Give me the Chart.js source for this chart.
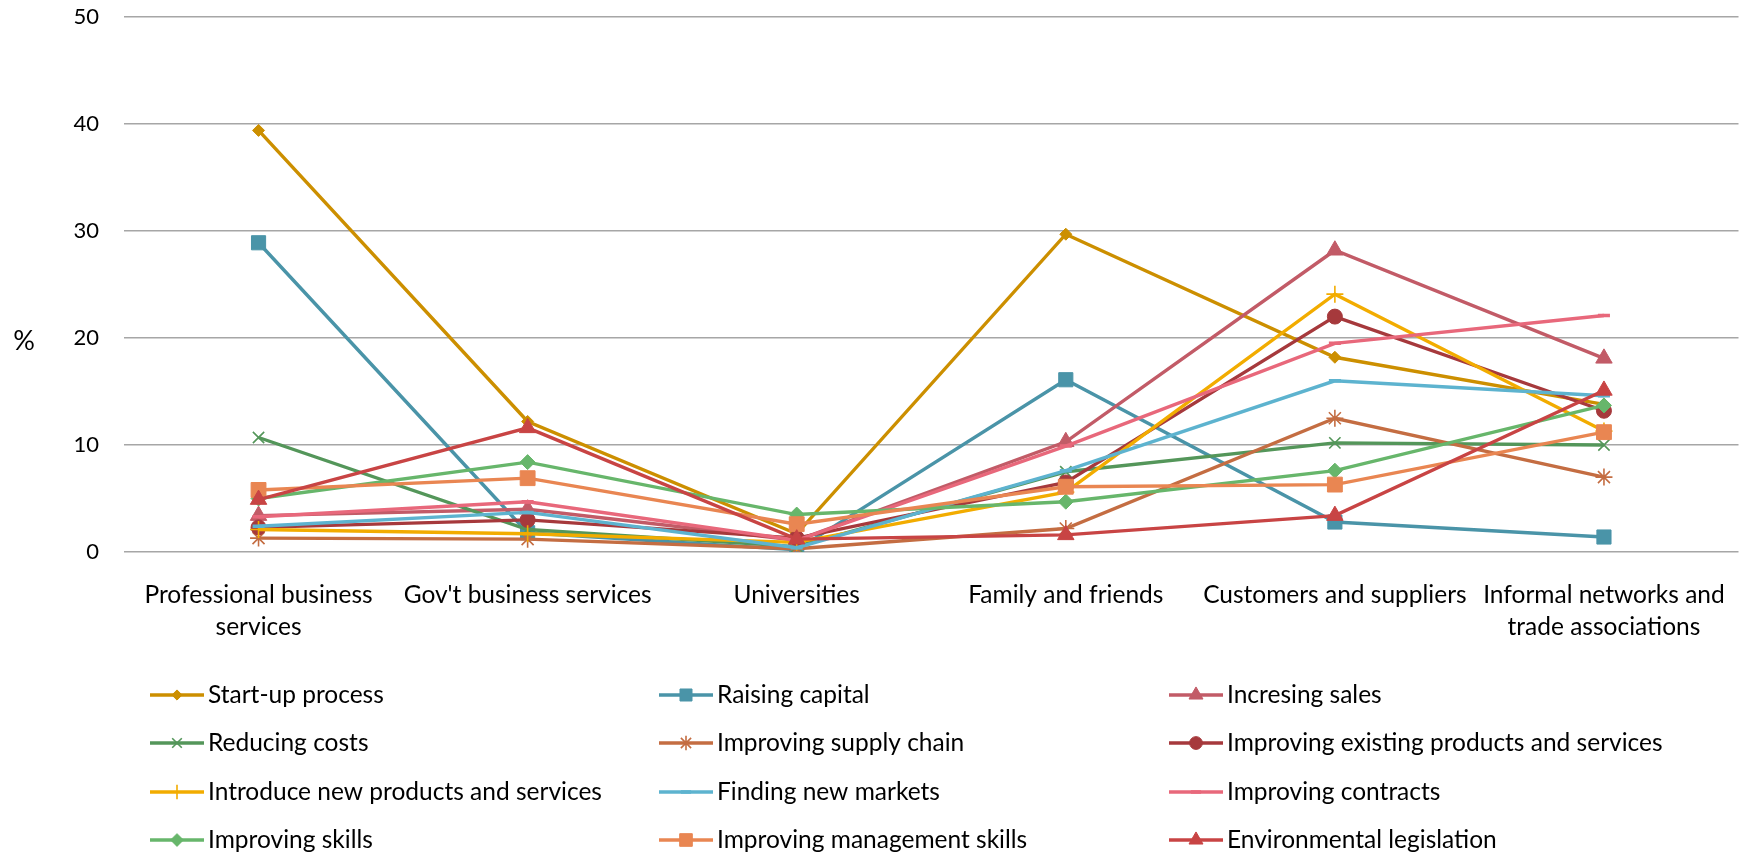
<!DOCTYPE html>
<html lang="en">
<head>
  <meta charset="UTF-8">
  <title>Sources of business advice</title>
  <script src="https://cdn.jsdelivr.net/npm/chart.js"></script>
  <style>
    body { margin: 0; background: #fff; }
    #chart { display: block; }
  </style>
</head>
<body>
  <canvas id="chart" width="1750" height="854"></canvas>
  <script>
    // categories (multi-line ones split the way the original wraps them)
    const categories = [
      ['Professional business', 'services'],
      "Gov't business services",
      'Universities',
      'Family and friends',
      'Customers and suppliers',
      ['Informal networks and', 'trade associations']
    ];
    const yTicks = [0, 10, 20, 30, 40, 50];

    const seriesNames = [
      'Start-up process', 'Raising capital', 'Incresing sales',
      'Reducing costs', 'Improving supply chain', 'Improving existing products and services',
      'Introduce new products and services', 'Finding new markets', 'Improving contracts',
      'Improving skills', 'Improving management skills', 'Environmental legislation'
    ];

    const startUp           = [39.4, 12.2, 1.7, 29.7, 18.2, 13.8];
    const raisingCapital    = [28.9, 1.8, 0.2, 16.1, 2.8, 1.4];
    const increasingSales   = [3.4, 4.0, 1.1, 10.3, 28.2, 18.1];
    const reducingCosts     = [10.7, 2.1, 0.5, 7.5, 10.2, 10.0];
    const supplyChain       = [1.3, 1.2, 0.3, 2.2, 12.5, 7.0];
    const improvingExisting = [2.3, 3.0, 1.3, 6.5, 22.0, 13.2];
    const introduceNew      = [2.1, 1.7, 0.9, 5.6, 24.1, 11.3];
    const newMarkets        = [2.4, 3.7, 0.4, 7.6, 16.0, 14.6];
    const contracts         = [3.3, 4.7, 1.1, 9.9, 19.5, 22.1];
    const skills            = [5.0, 8.4, 3.5, 4.7, 7.6, 13.7];
    const mgmtSkills        = [5.8, 6.9, 2.6, 6.1, 6.3, 11.2];
    const envLegislation    = [4.9, 11.6, 1.2, 1.6, 3.4, 15.1];

    const seriesValues = [
      startUp, raisingCapital, increasingSales,
      reducingCosts, supplyChain, improvingExisting,
      introduceNew, newMarkets, contracts,
      skills, mgmtSkills, envLegislation
    ];

    // look of each series: colour, marker, marker radius, marker stroke
    const styles = [
      ['#CC8F00', 'rectRot', 6, 1],
      ['#4A94A8', 'rect', 10, 1],
      ['#C25B67', 'triangle', 9.5, 1],
      ['#54965A', 'crossRot', 8, 1.6],
      ['#C46D42', 'star', 8.5, 1.6],
      ['#A6393C', 'circle', 7.5, 1],
      ['#F2AC00', 'cross', 8.5, 1.6],
      ['#5DB3CF', 'line', 6, 3.5],
      ['#E8687B', 'line', 6, 3.5],
      ['#67B66B', 'rectRot', 7.5, 1],
      ['#E98652', 'rect', 10.5, 1],
      ['#C84444', 'triangle', 9.5, 1]
    ];

    const FONT = 'Lato, "Open Sans", sans-serif';
    const legendCols = [150, 659, 1169];
    const legendRows = [695, 743, 792, 840];

    const datasets = seriesNames.map((name, i) => {
      const [color, shape, radius, bw] = styles[i];
      return {
        label: name,
        data: seriesValues[i],
        borderColor: color,
        backgroundColor: color,
        borderWidth: 3.4,
        pointStyle: shape,
        pointRadius: radius,
        pointBackgroundColor: color,
        pointBorderColor: color,
        pointBorderWidth: bw,
        pointHoverRadius: radius,
        tension: 0,
        order: seriesNames.length - i
      };
    });

    // legend in a fixed 3-column grid plus the horizontal "%" title
    const extrasPlugin = {
      id: 'extras',
      afterDraw(chart) {
        const ctx = chart.ctx;
        ctx.save();
        ctx.font = '27px ' + FONT;
        ctx.fillStyle = '#000';
        ctx.textAlign = 'center';
        ctx.textBaseline = 'middle';
        ctx.fillText('%', 24, 341);

        chart.data.datasets.forEach((ds, i) => {
          const x = legendCols[i % 3];
          const y = legendRows[Math.floor(i / 3)];
          ctx.strokeStyle = ds.borderColor;
          ctx.lineWidth = 3.4;
          ctx.beginPath();
          ctx.moveTo(x, y);
          ctx.lineTo(x + 54, y);
          ctx.stroke();

          ctx.fillStyle = ds.pointBackgroundColor;
          ctx.strokeStyle = ds.pointBorderColor;
          ctx.lineWidth = ds.pointBorderWidth;
          Chart.helpers.drawPoint(ctx, {
            pointStyle: ds.pointStyle,
            radius: ds.pointRadius * 0.85,
            rotation: 0,
            borderWidth: ds.pointBorderWidth
          }, x + 27, y);

          ctx.fillStyle = '#000';
          ctx.font = '24.5px ' + FONT;
          ctx.textAlign = 'left';
          ctx.textBaseline = 'middle';
          ctx.fillText(ds.label, x + 58, y);
        });
        ctx.restore();
      }
    };

    new Chart(document.getElementById('chart'), {
      type: 'line',
      data: { labels: categories, datasets: datasets },
      options: {
        responsive: false,
        animation: false,
        layout: { padding: { top: 17, right: 8, bottom: 200, left: 0 } },
        plugins: {
          legend: { display: false },
          tooltip: { enabled: false }
        },
        scales: {
          x: {
            offset: true,
            grid: { display: false },
            border: { display: false },
            ticks: {
              color: '#000',
              font: { family: FONT, size: 24.5, lineHeight: 1.27 },
              padding: 20,
              maxRotation: 0,
              autoSkip: false
            },
            afterFit: scale => { scale.height = 102; }
          },
          y: {
            min: 0,
            max: 50,
            afterBuildTicks: scale => { scale.ticks = yTicks.map(v => ({ value: v })); },
            grid: { color: '#A6A6A6', lineWidth: 1.5, drawTicks: false },
            border: { display: false },
            ticks: {
              color: '#000',
              font: { family: FONT, size: 22 },
              padding: 25
            },
            afterFit: scale => {
              scale.width = 124;
              // keep the tick padding from pushing the plot area down
              scale.paddingTop = 0;
              scale.paddingBottom = 0;
            }
          }
        }
      },
      plugins: [extrasPlugin]
    });
  </script>
</body>
</html>
